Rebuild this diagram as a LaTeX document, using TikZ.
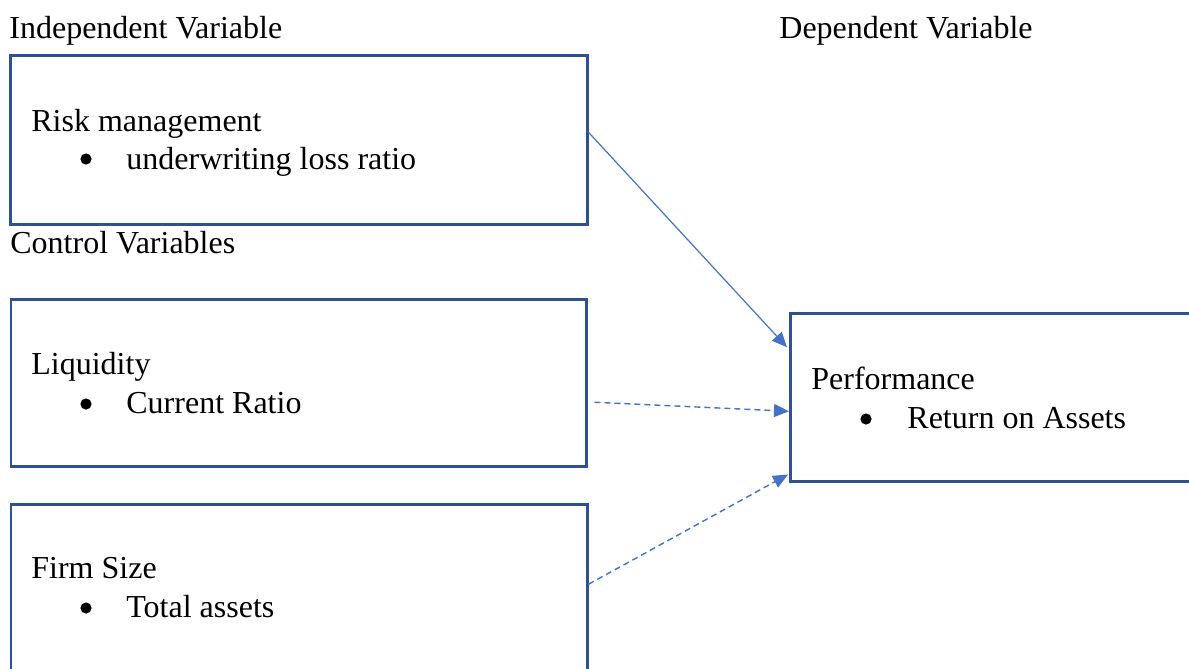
\documentclass[tikz,border=0pt]{standalone}
\usepackage{fontspec}
\setmainfont{Liberation Serif}
\usetikzlibrary{arrows.meta}
\definecolor{boxblue}{HTML}{2F528F}
\definecolor{arrblue}{HTML}{4472C4}
\begin{document}
\begin{tikzpicture}[x=0.5pt,y=-0.5pt,
  box/.style={draw=boxblue, line width=1.25pt, inner sep=0pt, anchor=north west},
  lbl/.style={anchor=base west, inner sep=0pt, font=\fontsize{16}{19}\selectfont},
  bul/.style={circle, fill=black, inner sep=0pt, minimum size=5.6pt},
  link/.style={draw=arrblue, line width=0.6pt, -{Triangle[length=7.5pt,width=6.5pt]}},
  dlink/.style={link, line width=0.7pt, dash pattern=on 3pt off 2pt}]
\clip (0,0) rectangle (1189,669);
\fill[white] (0,0) rectangle (1189,669);

% headings
\node[lbl] (hind) at (9,39) {Independent Variable};
\node[lbl] (hdep) at (779,39) {Dependent Variable};
\node[lbl] (hctl) at (10,253) {Control Variables};

% boxes
\node[box, minimum width=288.5pt, minimum height=84.5pt] (b1) at (9,54) {};
\node[box, minimum width=287.75pt, minimum height=83.5pt] (b2) at (9.5,298) {};
\node[box, minimum width=288.25pt, minimum height=84pt] (b3) at (9.5,503) {};
\node[box, minimum width=200pt, minimum height=84pt] (b4) at (789,312) {};

% box 1 text
\node[lbl] (t1a) at (31,131) {Risk management};
\node[bul] (t1b) at (86,159) {};
\node[lbl] (t1c) at (126,169) {underwriting loss ratio};

% box 2 text
\node[lbl] (t2a) at (31,374) {Liquidity};
\node[bul] (t2b) at (86,404) {};
\node[lbl] (t2c) at (126,413) {Current Ratio};

% box 3 text
\node[lbl] (t3a) at (31,578) {Firm Size};
\node[bul] (t3b) at (86,608) {};
\node[lbl] (t3c) at (126,617) {Total assets};

% box 4 text
\node[lbl] (t4a) at (811,389) {Performance};
\node[bul] (t4b) at (866,419) {};
\node[lbl] (t4c) at (907,428) {Return on Assets};

% connectors
\draw[link] ([yshift=3.75pt]b1.east) -- ([xshift=-1pt,yshift=25pt]b4.west);
\draw[dlink] ([xshift=3.5pt,yshift=-9.75pt]b2.east) -- ([yshift=-7pt]b4.west);
\draw[dlink] ([yshift=2pt]b3.east) -- ([xshift=-0.5pt,yshift=4pt]b4.south west);
\end{tikzpicture}
\end{document}
